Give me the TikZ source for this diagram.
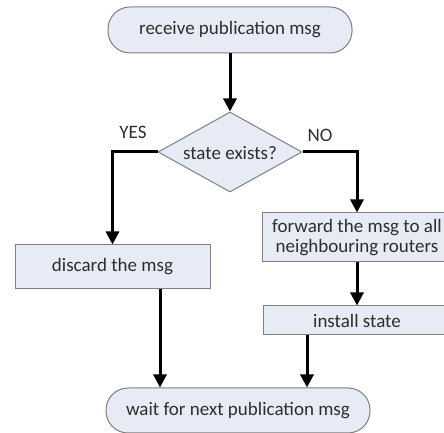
\documentclass[tikz,border=0pt]{standalone}
\usepackage{fontspec}
\setmainfont{Carlito}
\usetikzlibrary{shapes.geometric,arrows.meta}
\definecolor{boxfill}{HTML}{E6EBF5}
\definecolor{boxline}{HTML}{7F7F7F}
\definecolor{txt}{HTML}{2E2E2E}
\begin{document}
\begin{tikzpicture}[x=1pt,y=1pt,
  every node/.style={font=\fontsize{19}{22}\selectfont, text=txt},
  stadium/.style={draw=boxline, line width=1pt, fill=boxfill, rounded corners=22pt, inner sep=0pt},
  procbox/.style={draw=boxline, line width=1pt, fill=boxfill, inner sep=0pt, align=center},
  decbox/.style={draw=boxline, line width=1pt, fill=boxfill, diamond, inner sep=0pt},
  lbl/.style={inner sep=0pt},
  arr/.style={line width=3pt, -{Triangle[width=13pt,length=13pt]}}]
\useasboundingbox (0,0) rectangle (444,433);
\clip (0,0) rectangle (444,433);
\node[stadium, minimum width=244pt, minimum height=46pt] (top) at (230,403) {receive publication msg};
\node[decbox, minimum width=144pt, minimum height=80pt] (dec) at (230,281) {};
\node[lbl] (dectext) at (230,280) {state exists?};
\node[procbox, minimum width=195pt, minimum height=44pt] (discard) at (112.5,166) {discard the msg};
\node[procbox, minimum width=190pt, minimum height=49pt] (fwd) at (357,195.5) {forward the msg to all\\[-2pt]neighbouring routers};
\node[procbox, minimum width=188pt, minimum height=29pt] (install) at (357,112.5) {install state};
\node[stadium, minimum width=264pt, minimum height=45pt] (bot) at (238,22.5) {wait for next publication msg};
\node[lbl] (yes) at (133,301) {YES};
\node[lbl] (no) at (320,298) {NO};
\coordinate (lx) at (160,0);
\coordinate (rx) at (307,0);
\draw[arr] (top.south) -- (dec.north);
\draw[arr] (dec.west) -| (discard.north);
\draw[arr] (dec.east) -| (fwd.north);
\draw[arr] (fwd.south) -- (install.north);
\draw[arr] (discard.south -| lx) -- (bot.north -| lx);
\draw[arr] (install.south -| rx) -- (bot.north -| rx);
\end{tikzpicture}
\end{document}
